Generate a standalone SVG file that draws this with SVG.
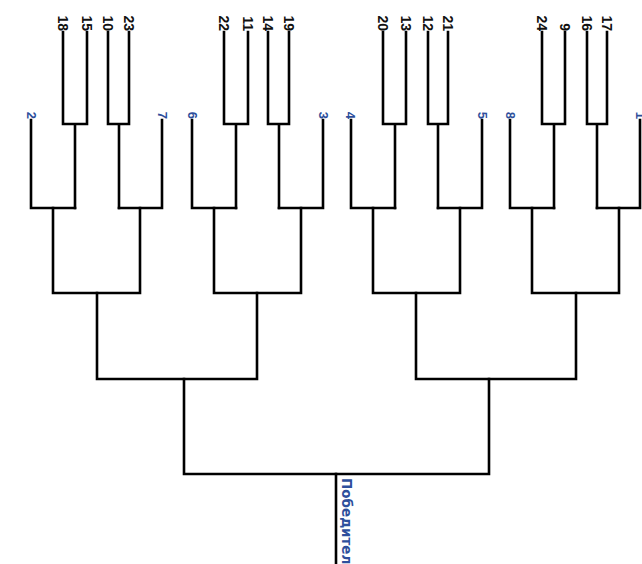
<svg xmlns="http://www.w3.org/2000/svg" width="642" height="564" viewBox="0 0 642 564">
<style>
.c{fill:none;stroke:#000;stroke-width:2.6;stroke-linecap:square;stroke-linejoin:miter}
.k{font-family:"Liberation Sans",Arial,sans-serif;font-weight:bold;font-size:14px;fill:#111;text-anchor:end}
.b{font-family:"Liberation Sans",Arial,sans-serif;font-weight:bold;font-size:13px;fill:#2e4f9c;text-anchor:end}
.w{font-family:"DejaVu Sans",sans-serif;font-weight:bold;font-size:13.5px;fill:#2e4f9c}
</style>
<rect width="642" height="564" fill="#fff"/>
<g id="connectors" class="c">
<path d="M63,32V124H87V32M75,124V208"/>
<path d="M108,32V124H129V32M119,124V208"/>
<path d="M224,32V124H248V32M236,124V208"/>
<path d="M268,32V124H289V32M279,124V208"/>
<path d="M383,32V124H406V32M395,124V208"/>
<path d="M428,32V124H448V32M438,124V208"/>
<path d="M542,32V124H565V32M554,124V208"/>
<path d="M587,32V124H607V32M597,124V208"/>
<path d="M31,120V208H75M119,208H162V120"/>
<path d="M192,120V208H236M279,208H323V120"/>
<path d="M351,120V208H395M438,208H482V120"/>
<path d="M510,120V208H554M597,208H640V120"/>
<path d="M53,208V293H140V208"/>
<path d="M214,208V293H301V208"/>
<path d="M373,208V293H460V208"/>
<path d="M532,208V293H619V208"/>
<path d="M97,293V379H257V293"/>
<path d="M416,293V379H576V293"/>
<path d="M184,379V474H489V379"/>
<path d="M336,474V566"/>
</g>
<g id="n18"><text class="k" transform="translate(58,31) rotate(90)">18</text></g>
<g id="n15"><text class="k" transform="translate(82,31) rotate(90)">15</text></g>
<g id="n10"><text class="k" transform="translate(103,31) rotate(90)">10</text></g>
<g id="n23"><text class="k" transform="translate(124,31) rotate(90)">23</text></g>
<g id="n22"><text class="k" transform="translate(219,31) rotate(90)">22</text></g>
<g id="n11"><text class="k" transform="translate(243,31) rotate(90)">11</text></g>
<g id="n14"><text class="k" transform="translate(263,31) rotate(90)">14</text></g>
<g id="n19"><text class="k" transform="translate(284,31) rotate(90)">19</text></g>
<g id="n20"><text class="k" transform="translate(378,31) rotate(90)">20</text></g>
<g id="n13"><text class="k" transform="translate(401,31) rotate(90)">13</text></g>
<g id="n12"><text class="k" transform="translate(423,31) rotate(90)">12</text></g>
<g id="n21"><text class="k" transform="translate(443,31) rotate(90)">21</text></g>
<g id="n24"><text class="k" transform="translate(537,31) rotate(90)">24</text></g>
<g id="n9"><text class="k" transform="translate(560,31) rotate(90)">9</text></g>
<g id="n16"><text class="k" transform="translate(582,31) rotate(90)">16</text></g>
<g id="n17"><text class="k" transform="translate(602,31) rotate(90)">17</text></g>
<g id="n2"><text class="b" transform="translate(26.5,119) rotate(90)">2</text></g>
<g id="n7"><text class="b" transform="translate(157.5,119) rotate(90)">7</text></g>
<g id="n6"><text class="b" transform="translate(187.5,119) rotate(90)">6</text></g>
<g id="n3"><text class="b" transform="translate(318.5,119) rotate(90)">3</text></g>
<g id="n4"><text class="b" transform="translate(345.5,119) rotate(90)">4</text></g>
<g id="n5"><text class="b" transform="translate(477.5,119) rotate(90)">5</text></g>
<g id="n8"><text class="b" transform="translate(505.5,119) rotate(90)">8</text></g>
<g id="n1"><text class="b" transform="translate(635.5,119) rotate(90)">1</text></g>
<g id="winner"><text class="w" transform="translate(342,478) rotate(90)">Победитель</text></g>
</svg>
